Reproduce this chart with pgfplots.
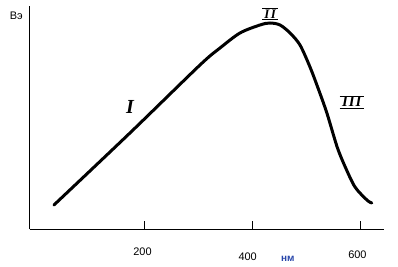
\documentclass[border=0pt]{standalone}
\usepackage{pgfplots}
\pgfplotsset{compat=1.18}
\usepackage{fontspec}
\setmainfont{Liberation Sans}
\newfontfamily\serifb{Liberation Serif}
\definecolor{nmblue}{RGB}{40,70,170}
\begin{document}
\begin{tikzpicture}
\useasboundingbox (0,0) rectangle (398bp,267bp);
\begin{axis}[
  at={(29.5bp,38bp)}, anchor=south west,
  scale only axis, width=354.5bp, height=223bp,
  xmin=-11.6, xmax=643.6, ymin=0, ymax=223,
  axis x line=bottom, axis y line=left,
  axis line style={-, line width=0.8bp},
  xtick={200,400,600}, ytick=\empty,
  xticklabels={200,{\raisebox{-5bp}{\kern-6bp 400}},{\raisebox{-3bp}{\kern-3bp 600}}},
  tick align=inside, major tick length=8bp,
  tick style={line width=0.8bp, black},
  xticklabel style={anchor=base, yshift=-26.5bp, xshift=-1.5bp, font=\fontsize{11}{11}\selectfont},
  /pgf/number format/assume math mode=true,
  clip=false,
]
\addplot[black, line width=3bp, line cap=round, smooth, tension=0.5] coordinates {
(33.6,24) (174,96) (303.5,164) (340.5,181) (377.4,196) (414.4,204) (432.9,206) (451.4,204) (469.9,196) (488.3,184) (506.8,162) (521.6,141) (538,116) (557,82) (572,62) (590,42) (612,29) (621,26)
};
\node at (axis cs:174,122) {\serifb\fontsize{20}{20}\selectfont\bfseries\itshape I};
\node at (axis cs:433,215) {\serifb\fontsize{13}{13}\selectfont\bfseries\itshape $\overline{\underline{\hbox{\,I\kern1.5pt I\,}}}$};
\node at (axis cs:584,127) {\serifb\fontsize{15}{15}\selectfont\bfseries\itshape $\overline{\underline{\hbox{\,I\kern1pt I\kern1pt I\,}}}$};
\node[text=nmblue, font=\fontsize{10}{10}\selectfont\bfseries] at (axis cs:466,-30) {нм};
\node[font=\fontsize{11}{11}\selectfont] at (axis cs:-36,213) {Вэ};
\end{axis}
\end{tikzpicture}
\end{document}
